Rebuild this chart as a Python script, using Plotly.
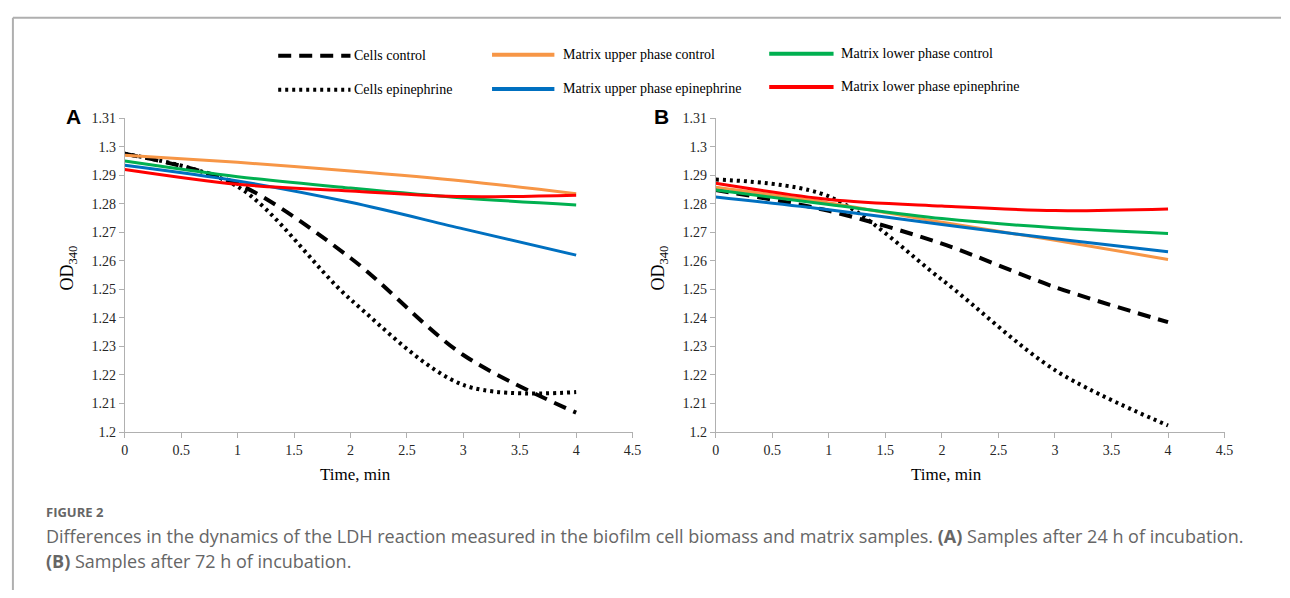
import plotly.graph_objects as go

# ---------------- data ----------------
time_min = [0, 1, 2, 3, 4]

cells_control_A = [1.2975, 1.2870, 1.2610, 1.2270, 1.2068]
cells_epi_A = [1.2975, 1.2860, 1.2465, 1.2165, 1.2140]
upper_control_A = [1.2970, 1.2945, 1.2915, 1.2880, 1.2835]
upper_epi_A = [1.2935, 1.2880, 1.2805, 1.2712, 1.2620]
lower_control_A = [1.2950, 1.2895, 1.2855, 1.2820, 1.2796]
lower_epi_A = [1.2920, 1.2868, 1.2845, 1.2825, 1.2830]

cells_control_B = [1.2848, 1.2775, 1.2660, 1.2508, 1.2385]
cells_epi_B = [1.2885, 1.2826, 1.2534, 1.2217, 1.2023]
upper_control_B = [1.2858, 1.2803, 1.2735, 1.2672, 1.2605]
upper_epi_B = [1.2824, 1.2779, 1.2727, 1.2677, 1.2632]
lower_control_B = [1.2848, 1.2797, 1.2748, 1.2716, 1.2696]
lower_epi_B = [1.2872, 1.2815, 1.2792, 1.2776, 1.2782]

series_names = ["Cells control", "Cells epinephrine",
                "Matrix upper phase control", "Matrix upper phase epinephrine",
                "Matrix lower phase control", "Matrix lower phase epinephrine"]
series_colors = ["#000000", "#000000", "#F79646", "#0070C0", "#00B050", "#FF0000"]
series_dash = ["13px,8px", "3px,4px", "solid", "solid", "solid", "solid"]
series_width = [4, 4, 3, 3, 3, 3]

panel_A = [cells_control_A, cells_epi_A, upper_control_A, upper_epi_A, lower_control_A, lower_epi_A]
panel_B = [cells_control_B, cells_epi_B, upper_control_B, upper_epi_B, lower_control_B, lower_epi_B]

x_tick_vals = [0, 0.5, 1, 1.5, 2, 2.5, 3, 3.5, 4, 4.5]
x_tick_text = ["0", "0.5", "1", "1.5", "2", "2.5", "3", "3.5", "4", "4.5"]
y_tick_vals = [1.2, 1.21, 1.22, 1.23, 1.24, 1.25, 1.26, 1.27, 1.28, 1.29, 1.3, 1.31]
y_tick_text = ["1.2", "1.21", "1.22", "1.23", "1.24", "1.25", "1.26", "1.27", "1.28", "1.29", "1.3", "1.31"]

x_title = "Time, min"
y_title = "OD<sub>340</sub>"
caption_label = "FIGURE 2"
caption_line1 = ("Differences in the dynamics of the LDH reaction measured in the biofilm cell biomass "
                 "and matrix samples. <b>(A)</b> Samples after 24 h of incubation.")
caption_line2 = "<b>(B)</b> Samples after 72 h of incubation."

# ---------------- layout helpers ----------------
W, H = 1290, 598


def px(x):
    return x / W


def py(y):
    return 1 - y / H


fig = go.Figure()

for panel, xa, ya in [(panel_A, "x", "y"), (panel_B, "x2", "y2")]:
    for vals, name, col, dash, wd in zip(panel, series_names, series_colors, series_dash, series_width):
        fig.add_trace(go.Scatter(
            x=time_min, y=vals, name=name, mode="lines",
            line=dict(color=col, dash=dash, width=wd, shape="spline", smoothing=0.9),
            xaxis=xa, yaxis=ya, showlegend=False, hoverinfo="skip"))

serif = "Liberation Serif, Times New Roman, serif"
axis_col = "#B0B0B0"

xcommon = dict(range=[0, 4.5], tickvals=x_tick_vals, ticktext=x_tick_text,
               showgrid=False, zeroline=False, showline=True, linecolor=axis_col, linewidth=1,
               ticks="outside", ticklen=5, tickcolor=axis_col,
               tickfont=dict(family=serif, size=14, color="#262626"))
ycommon = dict(range=[1.2, 1.31], tickvals=y_tick_vals, ticktext=y_tick_text,
               showgrid=False, zeroline=False, showline=True, linecolor=axis_col, linewidth=1,
               ticks="outside", ticklen=5, tickcolor=axis_col,
               tickfont=dict(family=serif, size=14, color="#262626"))

fig.update_layout(
    width=W, height=H, margin=dict(l=0, r=0, t=0, b=0),
    paper_bgcolor="white", plot_bgcolor="white", showlegend=False,
    xaxis=dict(domain=[px(122), px(635)], anchor="y", **xcommon),
    yaxis=dict(domain=[py(436), py(114)], anchor="x", **ycommon),
    xaxis2=dict(domain=[px(719), px(1233)], anchor="y2", **xcommon),
    yaxis2=dict(domain=[py(436), py(114)], anchor="x2", **ycommon),
)

shapes = []
annotations = []

# frame border (top and left)
shapes.append(dict(type="line", xref="paper", yref="paper", x0=px(9), x1=1, y0=py(11), y1=py(11),
                   line=dict(color="#AFAFAF", width=2)))
shapes.append(dict(type="line", xref="paper", yref="paper", x0=px(9), x1=px(9), y0=py(11), y1=0,
                   line=dict(color="#AFAFAF", width=2)))

# manual legend (3 columns x 2 rows)
leg_cols = [(277, 350), (277, 350), (493, 556), (493, 556), (773, 838), (773, 838)]
leg_text_x = [352, 352, 563, 563, 843, 843]
leg_rows = [50, 85, 49, 84, 48, 82]
for i, name in enumerate(series_names):
    x0, x1 = leg_cols[i]
    y = leg_rows[i]
    shapes.append(dict(type="line", xref="paper", yref="paper", x0=px(x0), x1=px(x1), y0=py(y), y1=py(y),
                       line=dict(color=series_colors[i], dash=series_dash[i], width=4)))
    annotations.append(dict(text=name, xref="paper", yref="paper", x=px(leg_text_x[i]), y=py(y),
                            xanchor="left", yanchor="middle", showarrow=False,
                            font=dict(family=serif, size=14, color="#000")))

# panel letters and axis titles
for lab, xx, axis_x0 in [("A", 70, 122), ("B", 664, 719)]:
    annotations.append(dict(text=f"<b>{lab}</b>", xref="paper", yref="paper", x=px(xx), y=py(112),
                            xanchor="center", yanchor="middle", showarrow=False,
                            font=dict(family="Liberation Sans, Arial, sans-serif", size=21, color="#000")))
    annotations.append(dict(text=x_title, xref="paper", yref="paper", x=px(axis_x0 + 233), y=py(480),
                            xanchor="center", yanchor="middle", showarrow=False,
                            font=dict(family=serif, size=17, color="#000")))
    annotations.append(dict(text=y_title, xref="paper", yref="paper", x=px(axis_x0 - 57), y=py(268),
                            xanchor="center", yanchor="middle", showarrow=False, textangle=-90,
                            font=dict(family=serif, size=18, color="#000")))

# caption
cap_font = "Open Sans, Noto Sans, sans-serif"
annotations.append(dict(text=f"<b>{caption_label}</b>", xref="paper", yref="paper", x=px(40), y=py(518),
                        xanchor="left", yanchor="middle", showarrow=False,
                        font=dict(family=cap_font, size=13, color="#666")))
annotations.append(dict(text=caption_line1, xref="paper", yref="paper", x=px(40), y=py(543),
                        xanchor="left", yanchor="middle", showarrow=False,
                        font=dict(family=cap_font, size=18, color="#666")))
annotations.append(dict(text=caption_line2, xref="paper", yref="paper", x=px(40), y=py(568),
                        xanchor="left", yanchor="middle", showarrow=False,
                        font=dict(family=cap_font, size=18, color="#666")))

fig.update_layout(shapes=shapes, annotations=annotations)

fig.write_html("out.html")
